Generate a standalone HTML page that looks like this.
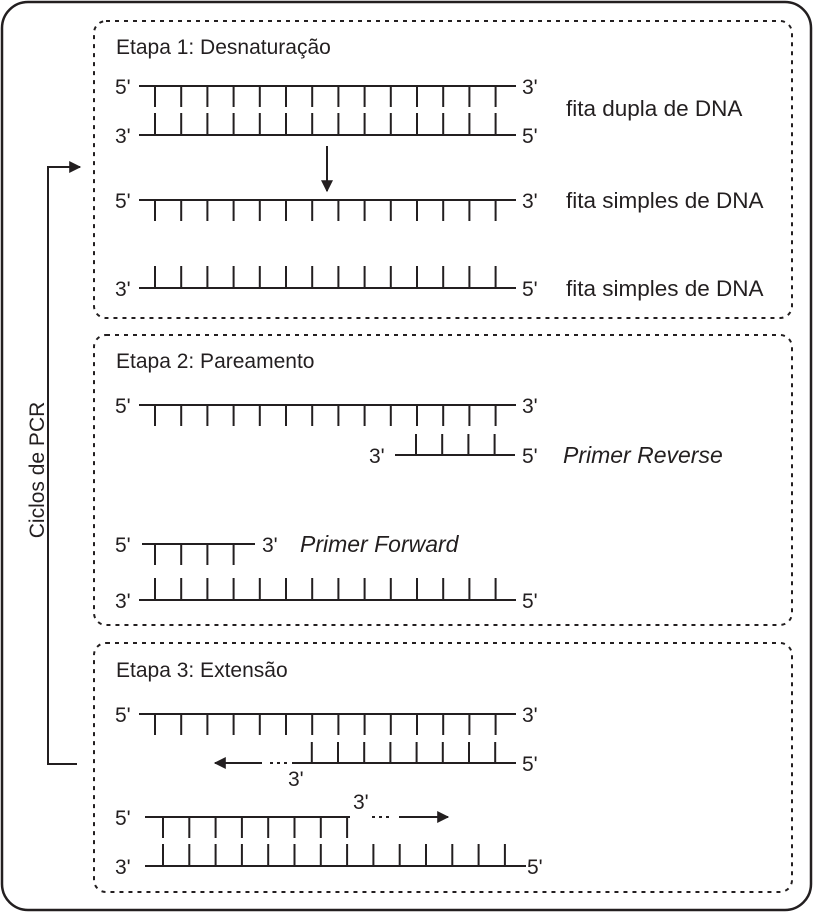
<!DOCTYPE html>
<html><head><meta charset="utf-8"><style>
html,body{margin:0;padding:0;background:#fff;}
svg{display:block;}
text{font-family:"Liberation Sans",Arial,sans-serif;font-size:21px;fill:#231f20;}
.i{font-style:italic;font-size:23px;}
.f{font-size:22.5px;}
</style></head><body>
<svg width="814" height="913" viewBox="0 0 814 913" xmlns="http://www.w3.org/2000/svg">
<defs><marker id="ah" viewBox="0 0 10 10" refX="9" refY="5" markerWidth="16" markerHeight="12" markerUnits="userSpaceOnUse" orient="auto"><path d="M0,0L10,5L0,10z" fill="#231f20"/></marker>
<marker id="ah2" viewBox="0 0 10 10" refX="9" refY="5" markerWidth="14" markerHeight="12" markerUnits="userSpaceOnUse" orient="auto"><path d="M0,0L10,5L0,10z" fill="#231f20"/></marker></defs>
<rect x="2" y="2" width="809" height="908" rx="26" fill="none" stroke="#231f20" stroke-width="2.5"/>
<g fill="none" stroke="#231f20" stroke-width="2" stroke-dasharray="4,5">
<rect x="94" y="21" width="698" height="297" rx="12"/>
<rect x="94" y="335" width="698" height="290" rx="12"/>
<rect x="94" y="643" width="698" height="249" rx="12"/>
</g>
<path d="M77,764H48V167H80" fill="none" stroke="#231f20" stroke-width="2" marker-end="url(#ah2)"/>
<text x="0" y="0" transform="translate(44,470) rotate(-90)" text-anchor="middle">Ciclos de PCR</text>

<g fill="none" stroke="#231f20" stroke-width="2">
<path d="M139,86H516 M139,135H516 M139,200H516 M139,288H516"/>
<path d="M155,86v21m26.2,-21v21m26.2,-21v21m26.2,-21v21m26.2,-21v21m26.2,-21v21m26.2,-21v21m26.2,-21v21m26.2,-21v21m26.2,-21v21m26.2,-21v21m26.2,-21v21m26.2,-21v21m26.2,-21v21"/>
<path d="M155,135v-22m26.2,22v-22m26.2,22v-22m26.2,22v-22m26.2,22v-22m26.2,22v-22m26.2,22v-22m26.2,22v-22m26.2,22v-22m26.2,22v-22m26.2,22v-22m26.2,22v-22m26.2,22v-22m26.2,22v-22"/>
<path d="M155,200v21m26.2,-21v21m26.2,-21v21m26.2,-21v21m26.2,-21v21m26.2,-21v21m26.2,-21v21m26.2,-21v21m26.2,-21v21m26.2,-21v21m26.2,-21v21m26.2,-21v21m26.2,-21v21m26.2,-21v21"/>
<path d="M155,288v-22m26.2,22v-22m26.2,22v-22m26.2,22v-22m26.2,22v-22m26.2,22v-22m26.2,22v-22m26.2,22v-22m26.2,22v-22m26.2,22v-22m26.2,22v-22m26.2,22v-22m26.2,22v-22m26.2,22v-22"/>
<path d="M327,146V191" marker-end="url(#ah2)"/>
<path d="M139,405H516 M395,455H515 M142,544H255 M139,600H516"/>
<path d="M155,405v21m26.2,-21v21m26.2,-21v21m26.2,-21v21m26.2,-21v21m26.2,-21v21m26.2,-21v21m26.2,-21v21m26.2,-21v21m26.2,-21v21m26.2,-21v21m26.2,-21v21m26.2,-21v21m26.2,-21v21"/>
<path d="M416,455v-21m26.2,21v-21m26.2,21v-21m26.2,21v-21"/>
<path d="M155,544v21m26.2,-21v21m26.2,-21v21m26.2,-21v21"/>
<path d="M155,600v-22m26.2,22v-22m26.2,22v-22m26.2,22v-22m26.2,22v-22m26.2,22v-22m26.2,22v-22m26.2,22v-22m26.2,22v-22m26.2,22v-22m26.2,22v-22m26.2,22v-22m26.2,22v-22m26.2,22v-22"/>
<path d="M139,714H516 M292,763H516 M145,817H350 M145,866H526"/>
<path d="M155,714v21m26.2,-21v21m26.2,-21v21m26.2,-21v21m26.2,-21v21m26.2,-21v21m26.2,-21v21m26.2,-21v21m26.2,-21v21m26.2,-21v21m26.2,-21v21m26.2,-21v21m26.2,-21v21m26.2,-21v21"/>
<path d="M311.8,763v-21m26.2,21v-21m26.2,21v-21m26.2,21v-21m26.2,21v-21m26.2,21v-21m26.2,21v-21m26.2,21v-21"/>
<path d="M163,817v21m26.3,-21v21m26.3,-21v21m26.3,-21v21m26.3,-21v21m26.3,-21v21m26.3,-21v21m26.3,-21v21"/>
<path d="M163,866v-22m26.3,22v-22m26.3,22v-22m26.3,22v-22m26.3,22v-22m26.3,22v-22m26.3,22v-22m26.3,22v-22m26.3,22v-22m26.3,22v-22m26.3,22v-22m26.3,22v-22m26.3,22v-22m26.3,22v-22"/>
<path d="M262,763H215" marker-end="url(#ah)"/>
<path d="M399,817H448" marker-end="url(#ah)"/>
</g>
<path d="M270,763h3M277,763h3M284,763h3 M372,817h3M379,817h3M386,817h3" stroke="#231f20" stroke-width="2"/>

<text x="116" y="54">Etapa 1: Desnaturação</text>
<text x="115" y="94">5'</text><text x="522" y="94">3'</text>
<text x="115" y="143">3'</text><text x="522" y="143">5'</text>
<text x="115" y="208">5'</text><text x="522" y="208">3'</text>
<text x="115" y="296">3'</text><text x="522" y="296">5'</text>
<text class="f" x="566" y="116">fita dupla de DNA</text>
<text class="f" x="566" y="208">fita simples de DNA</text>
<text class="f" x="566" y="296">fita simples de DNA</text>

<text x="116" y="368">Etapa 2: Pareamento</text>
<text x="115" y="413">5'</text><text x="522" y="413">3'</text>
<text x="369" y="463">3'</text><text x="522" y="463">5'</text>
<text class="i" x="563" y="463">Primer Reverse</text>
<text x="115" y="552">5'</text><text x="262" y="552">3'</text>
<text class="i" x="300" y="552">Primer Forward</text>
<text x="115" y="608">3'</text><text x="522" y="608">5'</text>

<text x="116" y="677">Etapa 3: Extensão</text>
<text x="115" y="722">5'</text><text x="522" y="722">3'</text>
<text x="522" y="771">5'</text><text x="288" y="786">3'</text>
<text x="115" y="825">5'</text><text x="353" y="809">3'</text>
<text x="115" y="874">3'</text><text x="527" y="874">5'</text>
</svg>
</body></html>
